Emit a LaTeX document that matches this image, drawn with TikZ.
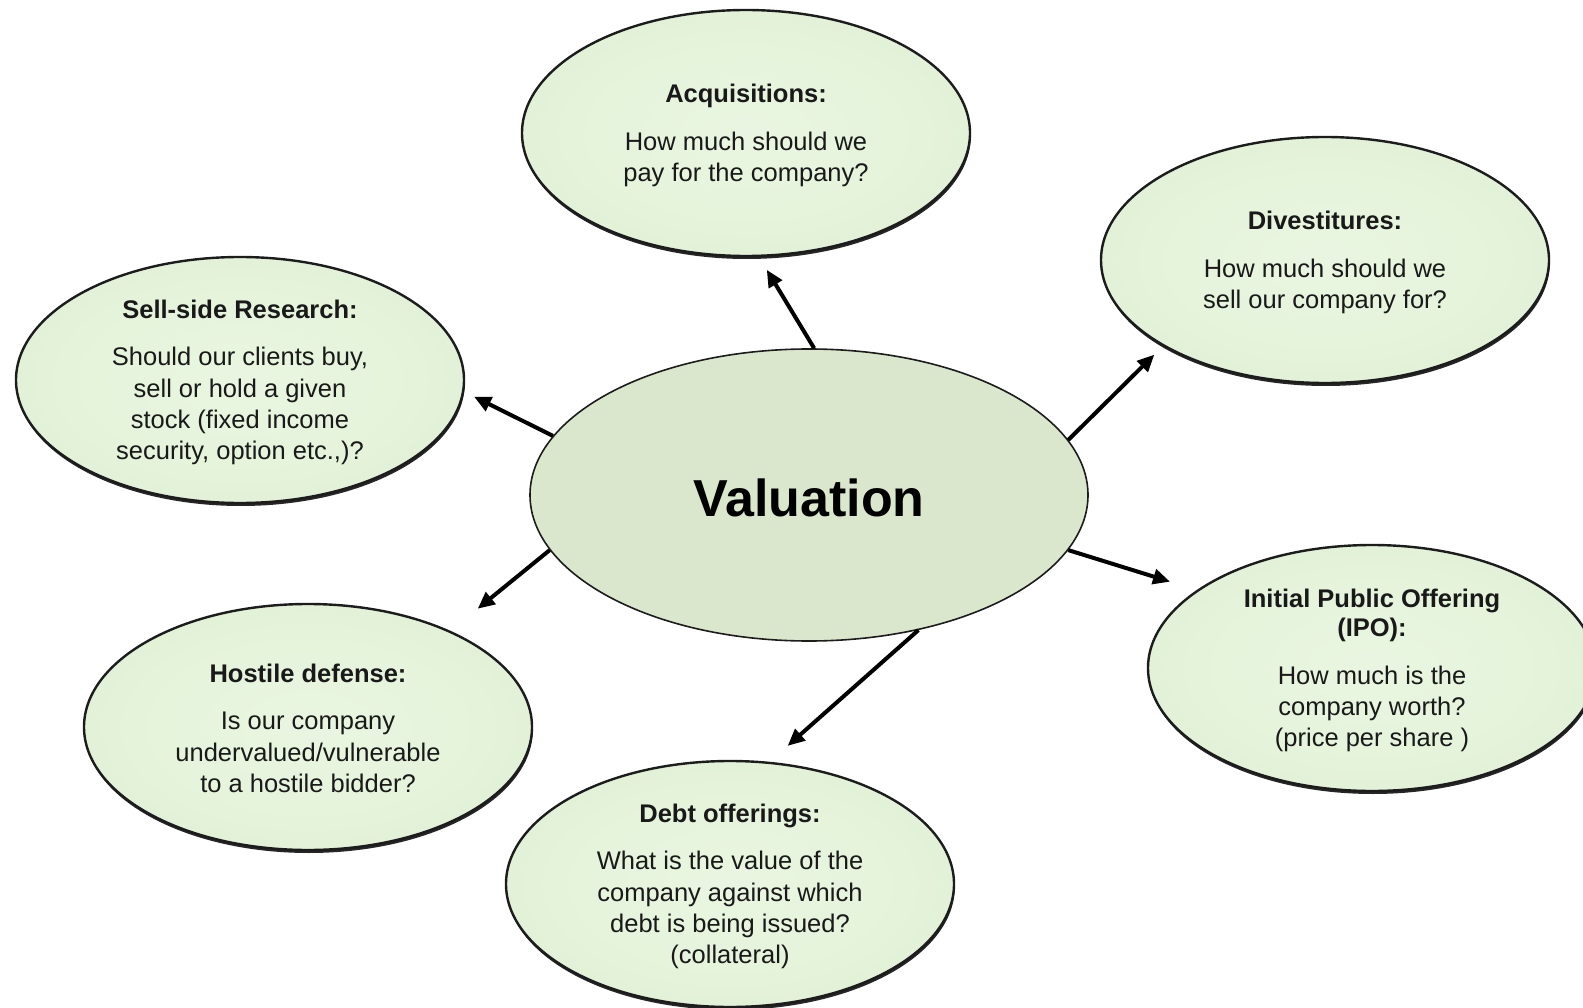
\documentclass[tikz,border=0pt]{standalone}
\usepackage{fontspec}
\setmainfont{Liberation Sans}
\usetikzlibrary{shapes.geometric,arrows.meta,shadows}

% soft pale-green glow, lighter in the middle of each bubble
\pgfdeclareradialshading{bubbleglow}{\pgfpoint{0bp}{0bp}}{%
  rgb(0bp)=(0.915,0.962,0.880);
  rgb(18bp)=(0.900,0.955,0.862);
  rgb(50bp)=(0.825,0.912,0.765);
  rgb(80bp)=(0.825,0.912,0.765)}

\definecolor{hubfill}{RGB}{218,231,204}
\definecolor{inkline}{RGB}{28,28,28}

\begin{document}
\begin{tikzpicture}[x=1pt,y=-1pt,
  bubble/.style={ellipse, draw=inkline, line width=2.4pt, shading=bubbleglow,
    inner sep=0pt, minimum width=448pt, minimum height=246pt,
    drop shadow={shadow xshift=0.8pt, shadow yshift=-3pt, fill=black!85, opacity=1}},
  hub/.style={ellipse, draw=inkline, line width=1.6pt, fill=hubfill,
    inner sep=0pt, minimum width=558pt, minimum height=292pt},
  bubbletext/.style={align=center, inner sep=0pt, yshift=-2.5pt,
    font=\fontsize{25.5}{31.3}\selectfont, text=black!90},
  hubtext/.style={inner sep=0pt, font=\fontsize{52}{60}\selectfont\bfseries, text=black},
  link/.style={line width=4pt, draw=black,
    -{Triangle[length=17pt,width=15pt]}}
]
\useasboundingbox (0,0) rectangle (1583,1008);

% outer bubbles
\node[bubble] (acq)  at (746,133)  {};
\node[bubble] (div)  at (1325,260) {};
\node[bubble] (sell) at (240,380)  {};
\node[bubble] (ipo)  at (1372,668) {};
\node[bubble] (host) at (308,727)  {};
\node[bubble] (debt) at (730,884)  {};

% central topic
\node[hub] (val) at (809,495) {};
\node[hubtext] (val-t) at (809,498) {Valuation};

% bubble texts
\node[bubbletext] (acq-t) at (acq) {{\bfseries Acquisitions:}\\[16pt]
  How much should we\\ pay for the company?};
\node[bubbletext] (div-t) at (div) {{\bfseries Divestitures:}\\[16pt]
  How much should we\\ sell our company for?};
\node[bubbletext] (sell-t) at (sell) {{\bfseries Sell-side Research:}\\[16pt]
  Should our clients buy,\\ sell or hold a given\\ stock (fixed income\\ security, option etc.,)?};
\node[bubbletext] (ipo-t) at (ipo) {{\bfseries Initial Public Offering}\\[-2pt] {\bfseries (IPO):}\\[16pt]
  How much is the\\ company worth?\\ (price per share )};
\node[bubbletext, yshift=1pt] (host-t) at (host) {{\bfseries Hostile defense:}\\[16pt]
  Is our company\\ undervalued/vulnerable\\ to a hostile bidder?};
\node[bubbletext] (debt-t) at (debt) {{\bfseries Debt offerings:}\\[16pt]
  What is the value of the\\ company against which\\ debt is being issued?\\ (collateral)};

% connectors from the centre outwards
\draw[link, shorten >=15pt] (val.88)  -- (acq.276);
\draw[link, shorten >=12pt] (val.12)  -- (div.208);
\draw[link, shorten >=11pt] (val.167) -- (sell.357);
\draw[link, shorten >=28pt] (val.348) -- (ipo.156);
\draw[link, shorten >=35pt] (val.192) -- (host.34);
\draw[link, shorten >=24pt] (val.309) -- (debt.72);
\end{tikzpicture}
\end{document}
